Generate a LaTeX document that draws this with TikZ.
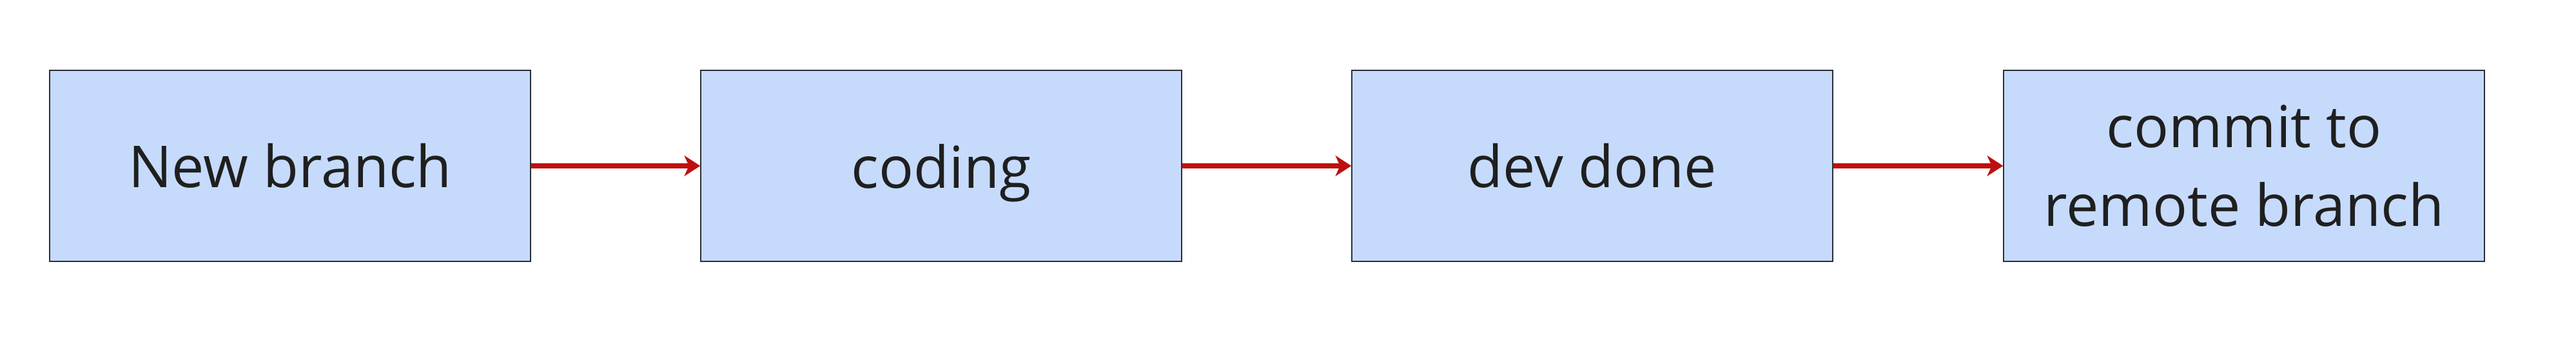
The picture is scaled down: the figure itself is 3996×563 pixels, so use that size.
\documentclass[tikz,border=0pt]{standalone}
\usepackage{fontspec}
\setmainfont{Open Sans}
\usetikzlibrary{arrows.meta}
\definecolor{boxfill}{HTML}{C6DBFC}
\definecolor{boxline}{HTML}{2B2F38}
\definecolor{arr}{HTML}{BE1010}
\begin{document}
\begin{tikzpicture}[x=0.01cm,y=0.01cm,
  stepbox/.style={draw=boxline,line width=0.6pt,fill=boxfill,minimum width=7.45cm,minimum height=2.95cm,inner sep=0pt,align=center,font=\fontsize{25.5}{34.5}\selectfont,text=black!88},
  flow/.style={draw=arr,line width=2.2pt,-{Stealth[length=7pt,width=9pt,inset=2pt]}}]
\useasboundingbox[fill=white] (0,0) rectangle (3996,563);
\node[stepbox] (a) at (450,306) {New branch};
\node[stepbox,text depth=0pt] (b) at (1460,306) {coding};
\node[stepbox] (c) at (2470,306) {dev done};
\node[stepbox] (d) at (3481,306) {commit to\\remote branch};
\draw[flow] (a) -- (b);
\draw[flow] (b) -- (c);
\draw[flow] (c) -- (d);
\end{tikzpicture}
\end{document}
